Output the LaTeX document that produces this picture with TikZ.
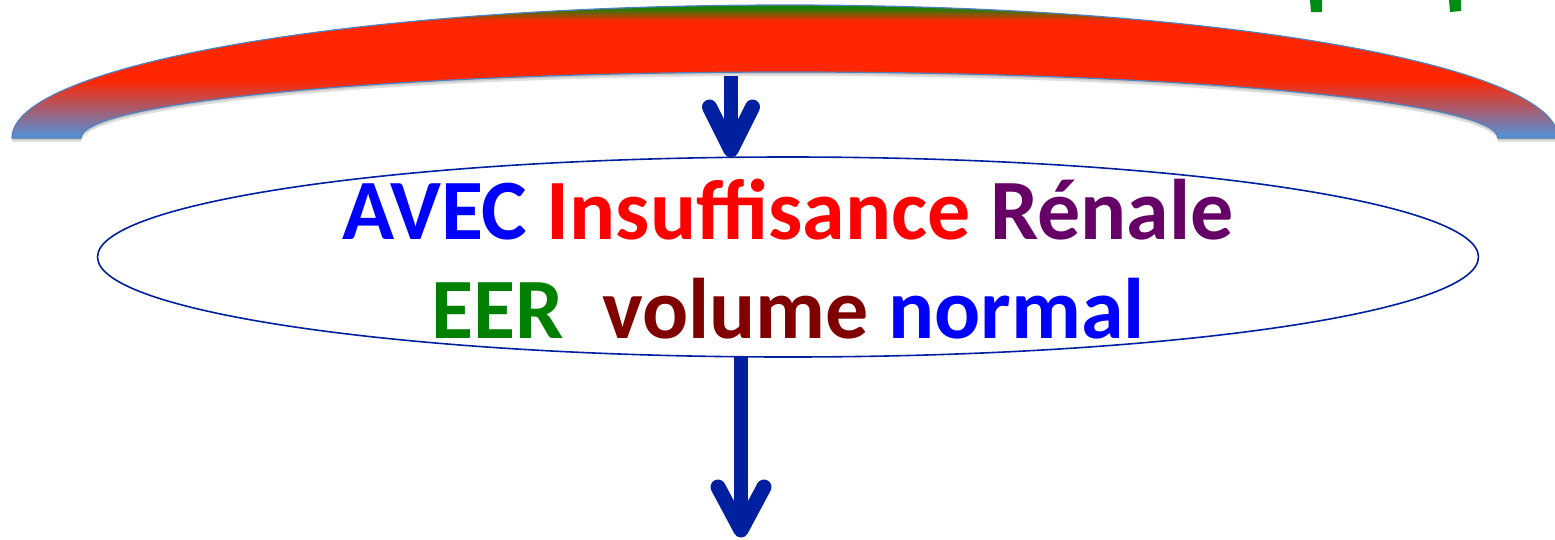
\documentclass[tikz,border=0pt]{standalone}
\usepackage{fontspec}
\setmainfont{Carlito}
\usetikzlibrary{shapes.geometric}
\definecolor{arcred}{RGB}{255,38,0}
\definecolor{arcblue}{RGB}{88,142,210}
\definecolor{arcgreen}{RGB}{20,130,10}
\definecolor{arcline}{RGB}{79,129,189}
\definecolor{darrow}{RGB}{0,32,160}
\definecolor{tblue}{RGB}{0,0,255}
\definecolor{tred}{RGB}{255,0,0}
\definecolor{tpurple}{RGB}{102,0,102}
\definecolor{tgreen}{RGB}{0,128,0}
\definecolor{tmaroon}{RGB}{128,0,0}
\definecolor{markgreen}{RGB}{0,140,20}
\pgfdeclareverticalshading{arcshade}{100bp}{color(0bp)=(arcblue); color(26bp)=(arcblue); color(47bp)=(arcred); color(69bp)=(arcred); color(74bp)=(arcgreen); color(100bp)=(arcgreen)}
\begin{document}
\begin{tikzpicture}[x=1pt,y=1pt,
  shaft/.style={draw=darrow, line width=14pt},
  barb/.style={draw=darrow, line width=15pt, line cap=round, line join=round},
  bigtext/.style={font=\fontsize{86}{103}\selectfont\bfseries, inner sep=0pt, anchor=base},
  oval/.style={ellipse, draw=darrow, line width=1.6pt, minimum width=1381pt, minimum height=200pt, inner sep=0pt}]
\useasboundingbox (0,0) rectangle (1555,-539);
\clip (0,0) rectangle (1555,-539);
% green marks at the top right
\fill[markgreen] (1310,0) -- (1322,0) -- (1322,-12) -- (1311,-12) -- cycle;
\fill[markgreen] (1449,0) -- (1461,0) -- (1461,-11) -- (1450,-12) -- cycle;
% shadow of the arc
\fill[black, opacity=0.12] (12,-142) arc[start angle=180,end angle=0,x radius=773,y radius=133]
  -- (1498,-142) arc[start angle=0,end angle=180,x radius=708.5,y radius=66] -- cycle;
\fill[black, opacity=0.12] (13,-140) arc[start angle=180,end angle=0,x radius=773,y radius=133]
  -- (1498,-140) arc[start angle=0,end angle=180,x radius=708.5,y radius=66] -- cycle;
% the arc
\shade[shading=arcshade, draw=arcline, line width=1.2pt]
  (12,-138) arc[start angle=180,end angle=0,x radius=773,y radius=133]
  -- (1498,-138) arc[start angle=0,end angle=180,x radius=708.5,y radius=66] -- cycle;
\coordinate (arcbot) at (731,-76);
% the ellipse and its text
\node[oval] (e) at (788,-257) {};
\node[bigtext] (t1) at (788,-239) {{\color{tblue}AVEC} {\color{tred}Insuffisance} {\color{tpurple}Rénale}};
\node[bigtext] (t2) at (788,-338) {{\color{tgreen}EER}\ \ {\color{tmaroon}volume} {\color{tblue}normal}};
\coordinate (etop) at (731,-150);
\coordinate (ebot) at (741,-357);
\coordinate (down) at (741,-530);
% arrows
\draw[shaft] (arcbot) -- (etop);
\draw[barb] ([shift={(-21.5,43)}]etop) -- (etop) -- ([shift={(21.5,43)}]etop);
\draw[shaft] (ebot) -- (down);
\draw[barb] ([shift={(-23,43)}]down) -- (down) -- ([shift={(23,43)}]down);
\end{tikzpicture}
\end{document}
